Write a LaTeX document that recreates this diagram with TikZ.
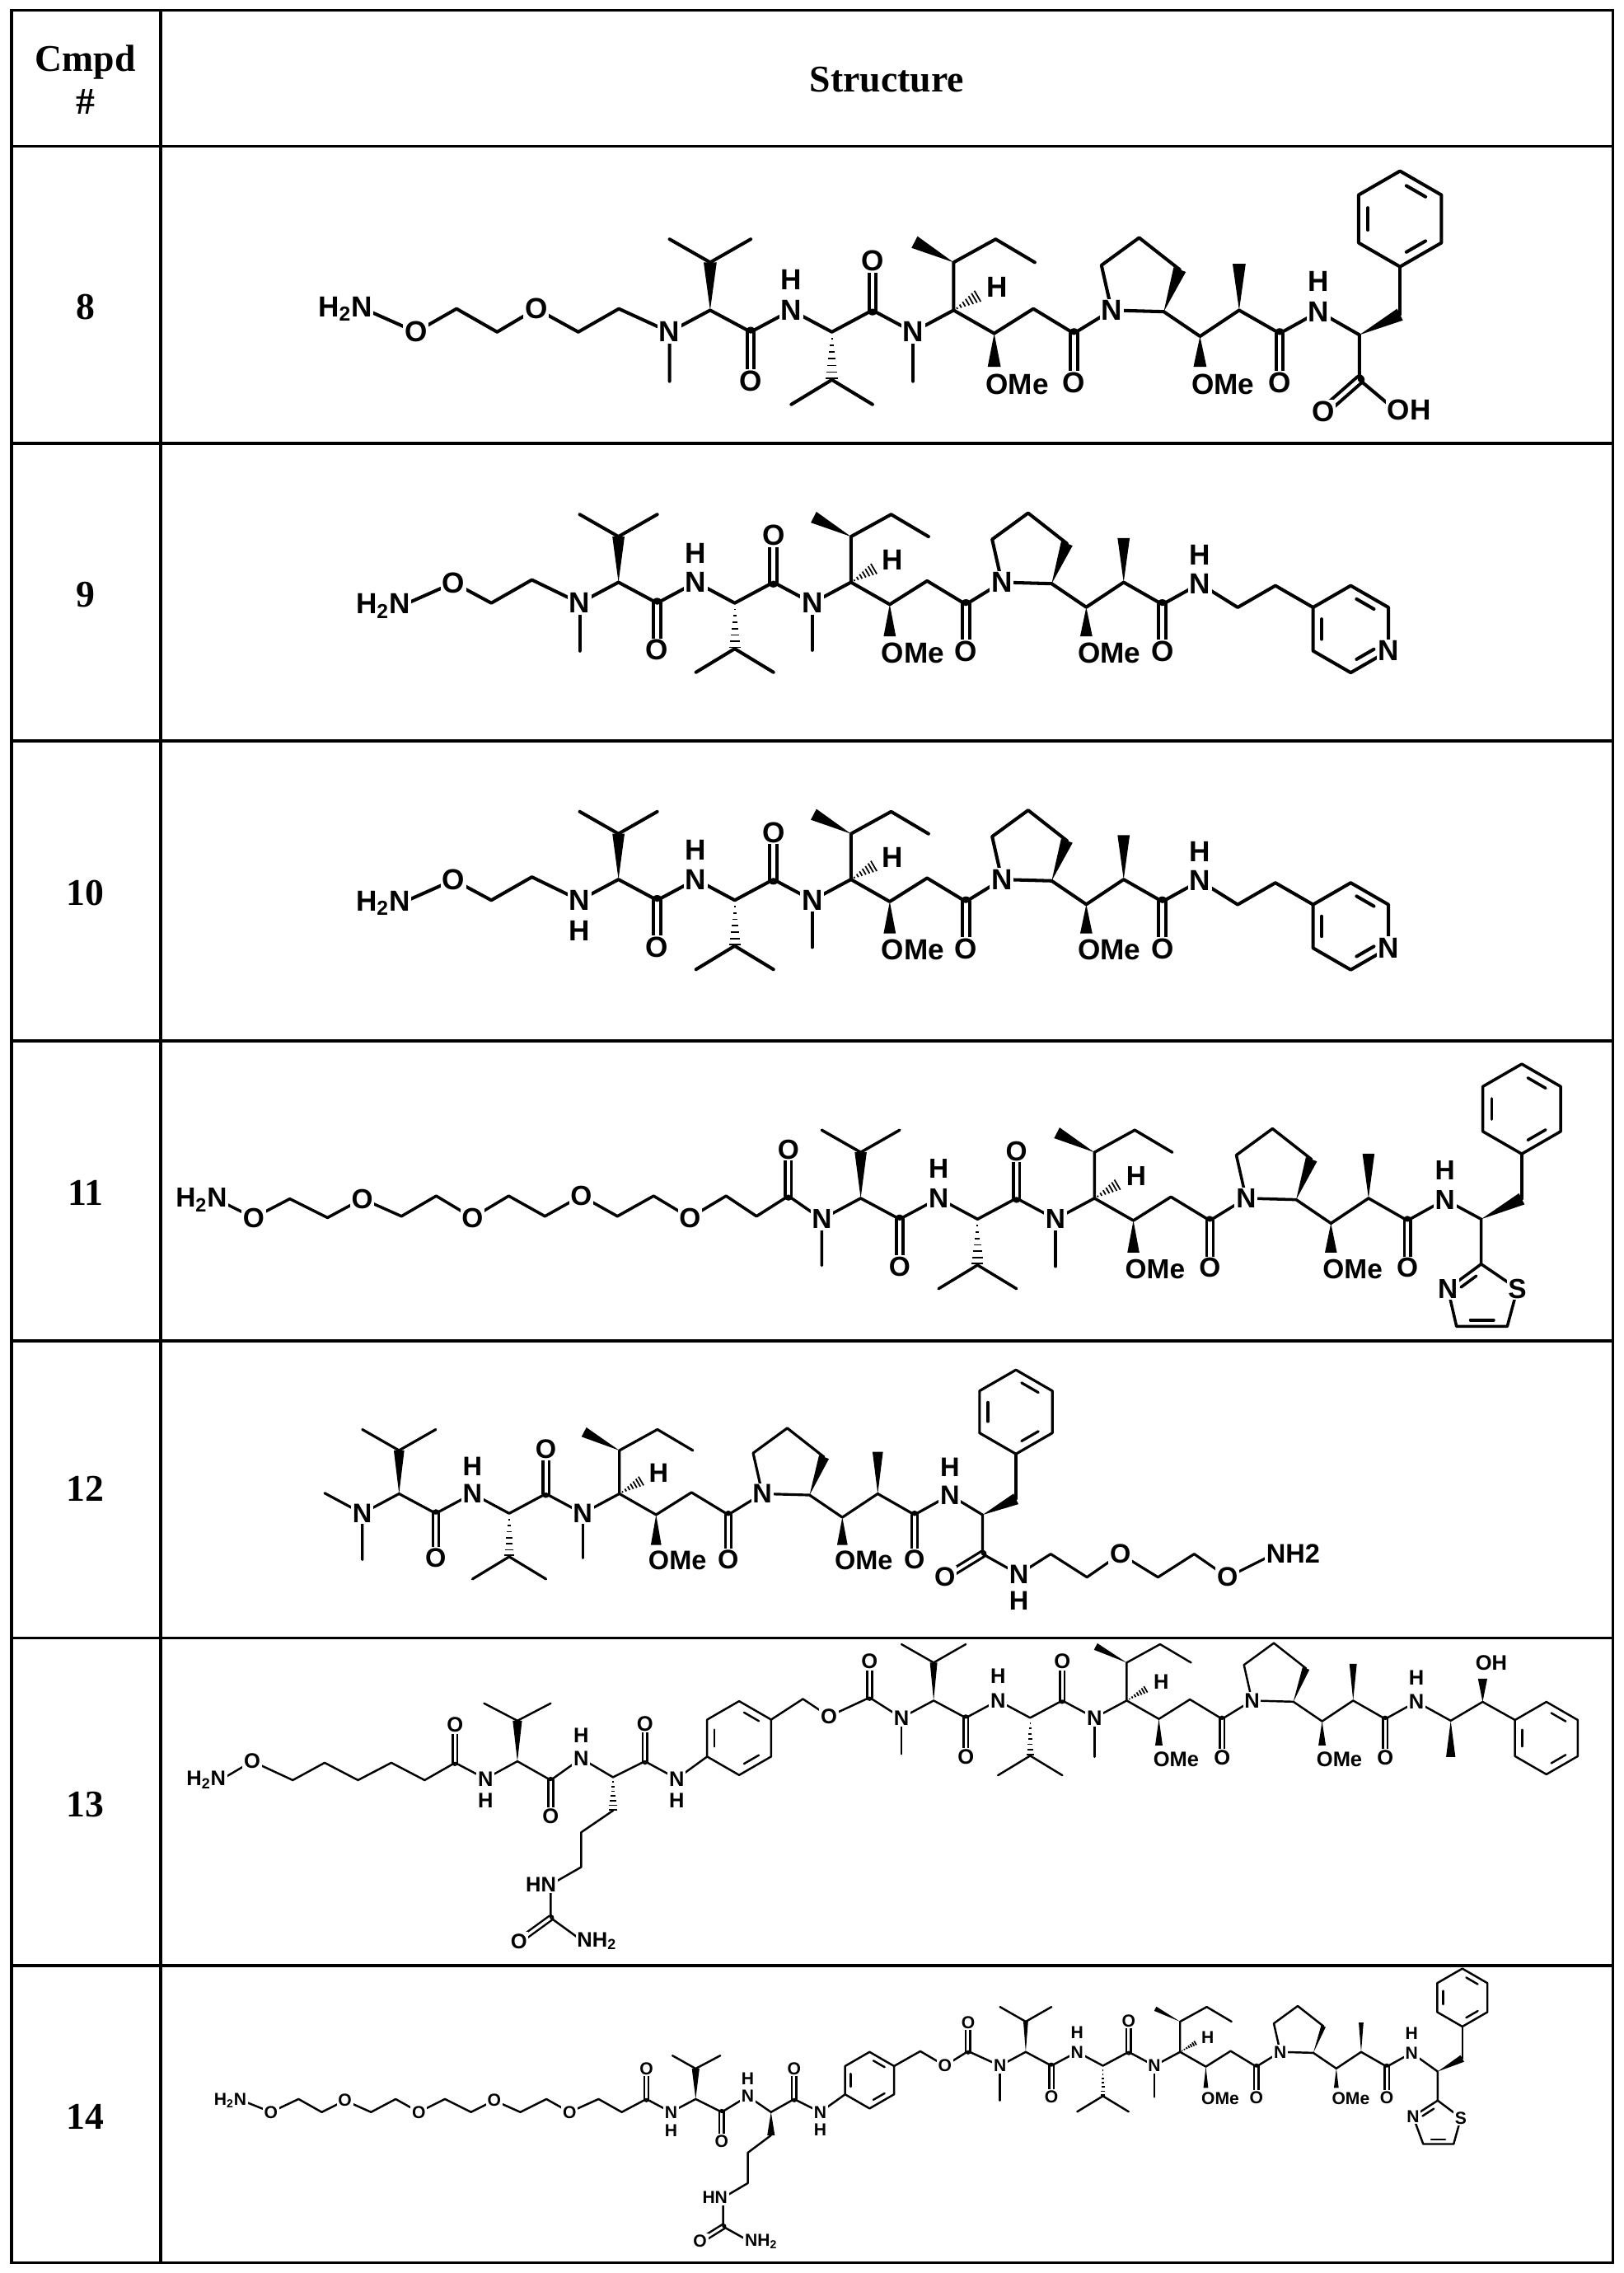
\documentclass[tikz,border=0pt]{standalone}
\usepackage{fontspec}
\setmainfont{Liberation Serif}
\newfontfamily\af{Liberation Sans}
\usetikzlibrary{calc}
\newcommand\wdg[2]{\fill (#1) -- ($(#2)!\ww!90:(#1)$) -- ($(#2)!\ww!-90:(#1)$) -- cycle;}
\newcommand\hsh[2]{\foreach \t in {0.14,0.28,0.42,0.56,0.70,0.84,0.97}{\draw[line width=1pt] ($(#1)!\t!(#2)!\t*\ww!90:(#2)$) -- ($(#1)!\t!(#2)!\t*\ww!-90:(#2)$);}}
\newcommand\inb[3]{\draw[bond] ($($(#1)!.2!(#2)$)!.23!(#3)$) -- ($($(#1)!.8!(#2)$)!.23!(#3)$);}
\newcommand\hexv[3]{%
 \coordinate (#1-1) at ($(#2)+(0,-#3)$);
 \coordinate (#1-2) at ($(#2)+({0.866*#3},{-0.5*#3})$);
 \coordinate (#1-3) at ($(#2)+({0.866*#3},{0.5*#3})$);
 \coordinate (#1-4) at ($(#2)+(0,#3)$);
 \coordinate (#1-5) at ($(#2)+({-0.866*#3},{0.5*#3})$);
 \coordinate (#1-6) at ($(#2)+({-0.866*#3},{-0.5*#3})$);}
\newcommand\hexd[1]{\draw[bond] (#1-1) -- (#1-2) -- (#1-3) -- (#1-4) -- (#1-5) -- (#1-6) -- cycle;}
\tikzset{
 lab/.style={font=\lf, fill=white, inner sep=1pt},
 dbl/.style={bond, double, double distance=\ddist},
 grid/.style={line width=2pt},
 hd/.style={font=\bfseries\fontsize{26}{30}\selectfont, align=center},
 core/.pic={
 \coordinate (-n1) at (0,0);
 \coordinate (-a1) at (28,-15); \coordinate (-ip) at (28,-48); \coordinate (-ipa) at (0,-64); \coordinate (-ipb) at (56,-64);
 \coordinate (-c1) at (56,0); \coordinate (-o1) at (56,34);
 \coordinate (-n2) at (84,-15); \coordinate (-h2) at (84,-36);
 \coordinate (-a2) at (112,0); \coordinate (-iq) at (112,33); \coordinate (-iqa) at (84,50); \coordinate (-iqb) at (140,50);
 \coordinate (-c2) at (140,-15); \coordinate (-o2) at (140,-49);
 \coordinate (-n3) at (168,0); \coordinate (-m3) at (168,34);
 \coordinate (-a3) at (196,-15); \coordinate (-sb) at (196,-48); \coordinate (-sm) at (169,-62); \coordinate (-e1) at (225,-64); \coordinate (-e2) at (252,-48);
 \coordinate (-hx) at (213,-25); \coordinate (-hl) at (226,-31);
 \coordinate (-c4) at (224,1); \coordinate (-w4) at (224,24); \coordinate (-om1) at (224,36);
 \coordinate (-c5) at (251,-16); \coordinate (-c6) at (279,1); \coordinate (-o6) at (279,35);
 \coordinate (-np) at (305,-15); \coordinate (-p2) at (341,-14); \coordinate (-p3) at (352,-43); \coordinate (-p4) at (324,-65); \coordinate (-p5) at (298,-46);
 \coordinate (-c7) at (366,3); \coordinate (-w7) at (366,24); \coordinate (-om2) at (366,36);
 \coordinate (-c8) at (393,-15); \coordinate (-m8) at (393,-47);
 \coordinate (-c9) at (421,1); \coordinate (-o9) at (421,35);
 \coordinate (-nh) at (448,-14); \coordinate (-hnh) at (448,-35);
 \draw[dbl] (-c1) -- (-o1); \draw[dbl] (-c2) -- (-o2); \draw[dbl] (-c6) -- (-o6); \draw[dbl] (-c9) -- (-o9);
 \draw[bond] (-n1) -- (-a1) -- (-c1) -- (-n2) -- (-a2) -- (-c2) -- (-n3) -- (-a3) -- (-c4) -- (-c5) -- (-c6) -- (-np) -- (-p2) -- (-c7) -- (-c8) -- (-c9) -- (-nh);
 \draw[bond] (-ipa) -- (-ip) -- (-ipb);
 \draw[bond] (-iqa) -- (-iq) -- (-iqb);
 \draw[bond] (-n3) -- (-m3);
 \draw[bond] (-a3) -- (-sb) -- (-e1) -- (-e2);
 \draw[bond] (-p3) -- (-p4) -- (-p5) -- (-np);
 \wdg{-a1}{-ip} \hsh{-a2}{-iq} \wdg{-sb}{-sm} \hsh{-a3}{-hx} \wdg{-c4}{-w4} \wdg{-p2}{-p3} \wdg{-c7}{-w7} \wdg{-c8}{-m8}
 \node[lab] (-N1) at (-n1) {N};
 \node[lab] (-O1) at (-o1) {O};
 \node[lab] (-N2) at (-n2) {N}; \node[lab] (-H2) at (-h2) {H};
 \node[lab] (-O2) at (-o2) {O};
 \node[lab] (-N3) at (-n3) {N};
 \node[lab] (-HL) at (-hl) {H};
 \node[lab,anchor=west,xshift=-\ox] (-OM1) at (-om1) {OMe};
 \node[lab] (-O6) at (-o6) {O};
 \node[lab] (-NP) at (-np) {N};
 \node[lab,anchor=west,xshift=-\ox] (-OM2) at (-om2) {OMe};
 \node[lab] (-O9) at (-o9) {O};
 \node[lab] (-NH) at (-nh) {N}; \node[lab] (-HH) at (-hnh) {H};
 }}
\begin{document}
\begin{tikzpicture}[x=1pt,y=-1pt]
\useasboundingbox (0,0) rectangle (1120,1568);
\fill[white] (0,0) rectangle (1120,1568);
% table
\draw[grid] (8,7) rectangle (1113,1561);
\draw[grid] (111,7) -- (111,1561);
\foreach \yy in {101,306,511,718,925,1130,1356} \draw[grid] (8,\yy) -- (1113,\yy);
\node[hd] (hcmp) at (59,55) {Cmpd\\\#};
\node[hd] (hstr) at (612,55) {Structure};
\node[hd] (k8) at (59,212) {8};
\node[hd] (k9) at (59,410) {9};
\node[hd] (k10) at (59,616) {10};
\node[hd] (k11) at (59,823) {11};
\node[hd] (k12) at (59,1027) {12};
\node[hd] (k13) at (59,1245) {13};
\node[hd] (k14) at (59,1460) {14};

% ---------- row 8
\begin{scope}[bond/.style={line width=2.3pt,line cap=round,line join=round}]
\def\lf{\af\bfseries\fontsize{20}{20}\selectfont}\def\ww{4.5pt}\def\ox{7pt}\def\ddist{2.6pt}
\coordinate (r8n) at (462,229);
\coordinate (r8nh) at ($(r8n)+(448,-14)$);
\coordinate (r8m) at (462,263);
\coordinate (r8h) at (251,213); \coordinate (r8o1) at (287,229); \coordinate (r8c1) at (315,213); \coordinate (r8c2) at (343,229);
\coordinate (r8o2) at (370,213); \coordinate (r8c3) at (399,229); \coordinate (r8c4) at (427,213);
\draw[bond] (r8h) -- (r8o1) -- (r8c1) -- (r8c2) -- (r8o2) -- (r8c3) -- (r8c4) -- (r8n) -- (r8m);
\coordinate (r8a) at (938,231); \coordinate (r8b) at (966,217); \coordinate (r8cc) at (938,262);
\coordinate (r8oa) at (913,284); \coordinate (r8ob) at (963,283); \coordinate (r8pc) at (966,151);
\hexv{r8p}{r8pc}{33}
\draw[dbl] (r8cc) -- (r8oa);
\draw[bond] (r8nh) -- (r8a) -- (r8cc) -- (r8ob);
\wdg{r8a}{r8b}
\draw[bond] (r8b) -- (r8p-4);
\hexd{r8p} \inb{r8p-1}{r8p-2}{r8pc} \inb{r8p-3}{r8p-4}{r8pc} \inb{r8p-5}{r8p-6}{r8pc}
\pic (r8) at (r8n) {core};
\node[lab,anchor=east,xshift=\ox] (r8H) at (r8h) {H\textsubscript{2}N};
\node[lab] (r8O1) at (r8o1) {O}; \node[lab] (r8O2) at (r8o2) {O};
\node[lab] (r8O3) at (r8oa) {O}; \node[lab,anchor=west,xshift=-\ox] (r8OH) at (r8ob) {OH};
\end{scope}

% ---------- rows 9 and 10
\foreach \rr/\dy in {9/0,10/205}{
\begin{scope}[yshift=-\dy pt, bond/.style={line width=2.3pt,line cap=round,line join=round}]
\def\lf{\af\bfseries\fontsize{20}{20}\selectfont}\def\ww{4.4pt}\def\ox{7pt}\def\ddist{2.6pt}
\coordinate (q\rr n) at (400,416);
\coordinate (q\rr nh) at ($(q\rr n)+.955*(448,-14)$);
\coordinate (q\rr h) at (277,418); \coordinate (q\rr o) at (313,402); \coordinate (q\rr c1) at (339,416); \coordinate (q\rr c2) at (367,400);
\draw[bond] (q\rr h) -- (q\rr o) -- (q\rr c1) -- (q\rr c2) -- (q\rr n);
\coordinate (q\rr e1) at (854,419); \coordinate (q\rr e2) at (880,404); \coordinate (q\rr pc) at (932,434);
\hexv{q\rr p}{q\rr pc}{30}
\draw[bond] (q\rr nh) -- (q\rr e1) -- (q\rr e2) -- (q\rr p-6);
\hexd{q\rr p} \inb{q\rr p-1}{q\rr p-2}{q\rr pc} \inb{q\rr p-3}{q\rr p-4}{q\rr pc} \inb{q\rr p-5}{q\rr p-6}{q\rr pc}
\ifnum\rr=9
 \coordinate (q9m) at (400,449); \draw[bond] (q9n) -- (q9m);
\fi
\pic[scale=.955] (q\rr) at (q\rr n) {core};
\ifnum\rr=10 \node[lab] (q10HN) at (400,437) {H}; \fi
\node[lab,anchor=east,xshift=\ox] (q\rr H) at (q\rr h) {H\textsubscript{2}N};
\node[lab] (q\rr O) at (q\rr o) {O};
\node[lab] (q\rr PN) at (q\rr p-3) {N};
\end{scope}}

% ---------- row 11
\begin{scope}[bond/.style={line width=2.0pt,line cap=round,line join=round}]
\def\lf{\af\bfseries\fontsize{19}{19}\selectfont}\def\ww{4.3pt}\def\ox{6.8pt}\def\ddist{2.4pt}
\coordinate (r11n) at (567,841);
\coordinate (r11nh) at ($(r11n)+.96*(448,-14)$);
\coordinate (r11m) at (567,873);
\coordinate (r11h) at (151,828);
\coordinate (r11o1) at (175,840); \coordinate (r11a1) at (200,827); \coordinate (r11a2) at (226,840);
\coordinate (r11o2) at (250,827); \coordinate (r11a3) at (277,839); \coordinate (r11a4) at (301,825);
\coordinate (r11o3) at (326,840); \coordinate (r11a5) at (351,825); \coordinate (r11a6) at (376,839);
\coordinate (r11o4) at (401,825); \coordinate (r11a7) at (426,839); \coordinate (r11a8) at (451,825);
\coordinate (r11o5) at (476,840); \coordinate (r11a9) at (501,825); \coordinate (r11a10) at (522,839);
\coordinate (r11k) at (544,825); \coordinate (r11ko) at (544,793);
\draw[dbl] (r11k) -- (r11ko);
\draw[bond] (r11h) -- (r11o1) -- (r11a1) -- (r11a2) -- (r11o2) -- (r11a3) -- (r11a4) -- (r11o3) -- (r11a5) -- (r11a6) -- (r11o4) -- (r11a7) -- (r11a8) -- (r11o5) -- (r11a9) -- (r11a10) -- (r11k) -- (r11n) -- (r11m);
\coordinate (r11a) at (1022,841); \coordinate (r11b) at (1050,827); \coordinate (r11pc) at (1050,765);
\hexv{r11p}{r11pc}{31}
\coordinate (r11t2) at (1022,872); \coordinate (r11tn) at (999,889); \coordinate (r11t4) at (1005,915); \coordinate (r11t5) at (1040,915); \coordinate (r11ts) at (1047,889); \coordinate (r11tc) at (1023,896);
\draw[bond] (r11nh) -- (r11a) -- (r11t2);
\wdg{r11a}{r11b}
\draw[bond] (r11b) -- (r11p-4);
\hexd{r11p} \inb{r11p-1}{r11p-2}{r11pc} \inb{r11p-3}{r11p-4}{r11pc} \inb{r11p-5}{r11p-6}{r11pc}
\draw[bond] (r11t2) -- (r11tn) -- (r11t4) -- (r11t5) -- (r11ts) -- cycle;
\inb{r11t2}{r11tn}{r11tc} \inb{r11t4}{r11t5}{r11tc}
\pic[scale=.96] (r11) at (r11n) {core};
\node[lab,anchor=east,xshift=\ox] (r11H) at (r11h) {H\textsubscript{2}N};
\foreach \i in {1,...,5}{\node[lab] (r11O\i) at (r11o\i) {O};}
\node[lab] (r11KO) at (r11ko) {O};
\node[lab] (r11TN) at (r11tn) {N}; \node[lab] (r11TS) at (r11ts) {S};
\end{scope}

% ---------- row 12
\begin{scope}[bond/.style={line width=1.8pt,line cap=round,line join=round}]
\def\lf{\af\bfseries\fontsize{18.5}{18.5}\selectfont}\def\ww{4pt}\def\ox{6.5pt}\def\ddist{2.2pt}
\coordinate (r12n) at (250,1044);
\coordinate (r12nh) at ($(r12n)+.905*(448,-14)$);
\coordinate (r12m1) at (224,1030); \coordinate (r12m2) at (250,1076);
\draw[bond] (r12m1) -- (r12n) -- (r12m2);
\coordinate (r12a) at (678,1045); \coordinate (r12b) at (701,1034); \coordinate (r12pc) at (701,974);
\hexv{r12p}{r12pc}{29}
\coordinate (r12k) at (678,1072); \coordinate (r12ko) at (652,1088); \coordinate (r12kn) at (703,1086); \coordinate (r12kh) at (703,1104);
\coordinate (r12c1) at (725,1072); \coordinate (r12c2) at (750,1088); \coordinate (r12o1) at (773,1072);
\coordinate (r12c3) at (799,1088); \coordinate (r12c4) at (824,1072); \coordinate (r12o2) at (847,1088); \coordinate (r12x) at (879,1072);
\draw[dbl] (r12k) -- (r12ko);
\draw[bond] (r12nh) -- (r12a) -- (r12k) -- (r12kn) -- (r12c1) -- (r12c2) -- (r12o1) -- (r12c3) -- (r12c4) -- (r12o2) -- (r12x);
\wdg{r12a}{r12b}
\draw[bond] (r12b) -- (r12p-4);
\hexd{r12p} \inb{r12p-1}{r12p-2}{r12pc} \inb{r12p-3}{r12p-4}{r12pc} \inb{r12p-5}{r12p-6}{r12pc}
\pic[scale=.905] (r12) at (r12n) {core};
\node[lab] (r12KO) at (r12ko) {O}; \node[lab] (r12KN) at (r12kn) {N}; \node[lab] (r12KH) at (r12kh) {H};
\node[lab] (r12O1) at (r12o1) {O}; \node[lab] (r12O2) at (r12o2) {O};
\node[lab,anchor=west,xshift=-\ox] (r12X) at (r12x) {NH2};
\end{scope}

% ---------- row 13
\begin{scope}[bond/.style={line width=1.4pt,line cap=round,line join=round}]
\def\lf{\af\bfseries\fontsize{14.5}{14.5}\selectfont}\def\ww{3.2pt}\def\ox{5pt}\def\ddist{1.9pt}
\coordinate (s13n) at (622,1185);
\coordinate (s13nh) at ($(s13n)+.793*(448,-14)$);
\coordinate (s13m) at (622,1210);
\coordinate (s13k) at (600,1171); \coordinate (s13ko) at (600,1146); \coordinate (s13ok) at (572,1184); \coordinate (s13ch) at (554,1172);
\coordinate (s13bc) at (510,1199);
\hexv{s13b}{s13bc}{25.5}
\coordinate (s13an) at (467,1227); \coordinate (s13ah) at (467,1242);
\coordinate (s13k2) at (445,1215); \coordinate (s13k2o) at (445,1189);
\coordinate (s13ca) at (423,1226); \coordinate (s13cb) at (423,1249); \coordinate (s13cc) at (401,1264); \coordinate (s13cd) at (401,1288);
\coordinate (s13un) at (380,1300); \coordinate (s13uc) at (380,1323); \coordinate (s13uo) at (358,1339); \coordinate (s13un2) at (402,1339);
\coordinate (s13vn) at (401,1213); \coordinate (s13vh) at (401,1197);
\coordinate (s13k3) at (380,1228); \coordinate (s13k3o) at (380,1253);
\coordinate (s13va) at (357,1215); \coordinate (s13vb) at (357,1187); \coordinate (s13vm1) at (334,1175); \coordinate (s13vm2) at (380,1175);
\coordinate (s13wn) at (335,1227); \coordinate (s13wh) at (335,1242);
\coordinate (s13k4) at (314,1216); \coordinate (s13k4o) at (314,1190);
\coordinate (s13l1) at (293,1228); \coordinate (s13l2) at (270,1216); \coordinate (s13l3) at (247,1228); \coordinate (s13l4) at (224,1216); \coordinate (s13l5) at (202,1228);
\coordinate (s13lo) at (174,1215); \coordinate (s13h) at (152,1228);
\draw[dbl] (s13k) -- (s13ko); \draw[dbl] (s13k2) -- (s13k2o); \draw[dbl] (s13k3) -- (s13k3o); \draw[dbl] (s13k4) -- (s13k4o); \draw[dbl] (s13uc) -- (s13uo);
\draw[bond] (s13n) -- (s13m);
\draw[bond] (s13n) -- (s13k) -- (s13ok) -- (s13ch) -- (s13b-2);
\hexd{s13b} \inb{s13b-1}{s13b-2}{s13bc} \inb{s13b-3}{s13b-4}{s13bc} \inb{s13b-5}{s13b-6}{s13bc}
\draw[bond] (s13b-5) -- (s13an) -- (s13k2) -- (s13ca) -- (s13vn) -- (s13k3) -- (s13va) -- (s13wn) -- (s13k4) -- (s13l1) -- (s13l2) -- (s13l3) -- (s13l4) -- (s13l5) -- (s13lo) -- (s13h);
\draw[bond] (s13cb) -- (s13cc) -- (s13cd) -- (s13un) -- (s13uc) -- (s13un2);
\hsh{s13ca}{s13cb}
\wdg{s13va}{s13vb}
\draw[bond] (s13vm1) -- (s13vb) -- (s13vm2);
% end group
\coordinate (s13ea) at (1001,1187); \coordinate (s13em) at (1001,1212); \coordinate (s13eb) at (1023,1174); \coordinate (s13ew) at (1023,1158); \coordinate (s13eo) at (1029,1147);
\coordinate (s13pc) at (1067,1199);
\hexv{s13p}{s13pc}{25}
\draw[bond] (s13nh) -- (s13ea) -- (s13eb) -- (s13p-6);
\wdg{s13ea}{s13em} \wdg{s13eb}{s13ew}
\hexd{s13p} \inb{s13p-1}{s13p-2}{s13pc} \inb{s13p-3}{s13p-4}{s13pc} \inb{s13p-5}{s13p-6}{s13pc}
\pic[scale=.793] (s13) at (s13n) {core};
\node[lab] (s13KO) at (s13ko) {O}; \node[lab] (s13OK) at (s13ok) {O};
\node[lab] (s13AN) at (s13an) {N}; \node[lab] (s13AH) at (s13ah) {H};
\node[lab] (s13K2O) at (s13k2o) {O};
\node[lab,anchor=east,xshift=\ox] (s13UN) at (s13un) {HN};
\node[lab] (s13UO) at (s13uo) {O};
\node[lab,anchor=west,xshift=-\ox] (s13UN2) at (s13un2) {NH\textsubscript{2}};
\node[lab] (s13VN) at (s13vn) {N}; \node[lab] (s13VH) at (s13vh) {H};
\node[lab] (s13K3O) at (s13k3o) {O};
\node[lab] (s13WN) at (s13wn) {N}; \node[lab] (s13WH) at (s13wh) {H};
\node[lab] (s13K4O) at (s13k4o) {O};
\node[lab] (s13LO) at (s13lo) {O};
\node[lab,anchor=east,xshift=\ox] (s13H) at (s13h) {H\textsubscript{2}N};
\node[lab] (s13EO) at (s13eo) {OH};
\end{scope}

% ---------- row 14
\begin{scope}[bond/.style={line width=1.4pt,line cap=round,line join=round}]
\def\lf{\af\bfseries\fontsize{12}{12}\selectfont}\def\ww{2.6pt}\def\ox{4.2pt}\def\ddist{1.7pt}
\coordinate (t14n) at (690,1425);
\coordinate (t14nh) at ($(t14n)+.634*(448,-14)$);
\coordinate (t14m) at (690,1449);
\coordinate (t14k) at (668,1415); \coordinate (t14ko) at (668,1395); \coordinate (t14ok) at (652,1425); \coordinate (t14ch) at (635,1415);
\coordinate (t14bc) at (600,1435);
\hexv{t14b}{t14bc}{19.5}
\coordinate (t14an) at (566,1457); \coordinate (t14ah) at (566,1469);
\coordinate (t14k2) at (548,1448); \coordinate (t14k2o) at (548,1427);
\coordinate (t14ca) at (532,1457); \coordinate (t14cb) at (532,1473); \coordinate (t14cc) at (516,1485); \coordinate (t14cd) at (516,1506);
\coordinate (t14un) at (499,1516); \coordinate (t14uc) at (499,1536); \coordinate (t14uo) at (483,1546); \coordinate (t14un2) at (517,1546);
\coordinate (t14vn) at (516,1446); \coordinate (t14vh) at (516,1434);
\coordinate (t14k3) at (498,1457); \coordinate (t14k3o) at (498,1477);
\coordinate (t14va) at (480,1448); \coordinate (t14vb) at (480,1427); \coordinate (t14vm1) at (464,1418); \coordinate (t14vm2) at (497,1418);
\coordinate (t14wn) at (463,1457); \coordinate (t14wh) at (463,1470);
\coordinate (t14k4) at (446,1448); \coordinate (t14k4o) at (446,1427);
\coordinate (t14l1) at (429,1457); \coordinate (t14l2) at (413,1448); \coordinate (t14o1) at (393,1457);
\coordinate (t14l3) at (377,1448); \coordinate (t14l4) at (359,1457); \coordinate (t14o2) at (341,1449);
\coordinate (t14l5) at (325,1457); \coordinate (t14l6) at (307,1448); \coordinate (t14o3) at (289,1457);
\coordinate (t14l7) at (273,1448); \coordinate (t14l8) at (256,1457); \coordinate (t14o4) at (238,1449);
\coordinate (t14l9) at (222,1457); \coordinate (t14l10) at (206,1448); \coordinate (t14o5) at (187,1457);
\coordinate (t14h) at (167,1449);
\draw[dbl] (t14k) -- (t14ko); \draw[dbl] (t14k2) -- (t14k2o); \draw[dbl] (t14k3) -- (t14k3o); \draw[dbl] (t14k4) -- (t14k4o); \draw[dbl] (t14uc) -- (t14uo);
\draw[bond] (t14n) -- (t14m);
\draw[bond] (t14n) -- (t14k) -- (t14ok) -- (t14ch) -- (t14b-2);
\hexd{t14b} \inb{t14b-1}{t14b-2}{t14bc} \inb{t14b-3}{t14b-4}{t14bc} \inb{t14b-5}{t14b-6}{t14bc}
\draw[bond] (t14b-5) -- (t14an) -- (t14k2) -- (t14ca) -- (t14vn) -- (t14k3) -- (t14va) -- (t14wn) -- (t14k4) -- (t14l1) -- (t14l2) -- (t14o1) -- (t14l3) -- (t14l4) -- (t14o2) -- (t14l5) -- (t14l6) -- (t14o3) -- (t14l7) -- (t14l8) -- (t14o4) -- (t14l9) -- (t14l10) -- (t14o5) -- (t14h);
\draw[bond] (t14cb) -- (t14cc) -- (t14cd) -- (t14un) -- (t14uc) -- (t14un2);
\wdg{t14ca}{t14cb}
\wdg{t14va}{t14vb}
\draw[bond] (t14vm1) -- (t14vb) -- (t14vm2);
% end group
\coordinate (t14ea) at (992,1429); \coordinate (t14eb) at (1009,1420); \coordinate (t14pc) at (1009,1378);
\hexv{t14p}{t14pc}{20}
\coordinate (t14t2) at (992,1449); \coordinate (t14tn) at (975,1460); \coordinate (t14t4) at (982,1479); \coordinate (t14t5) at (1003,1479); \coordinate (t14ts) at (1008,1461); \coordinate (t14tc) at (992,1466);
\draw[bond] (t14nh) -- (t14ea) -- (t14t2);
\wdg{t14ea}{t14eb}
\draw[bond] (t14eb) -- (t14p-4);
\hexd{t14p} \inb{t14p-1}{t14p-2}{t14pc} \inb{t14p-3}{t14p-4}{t14pc} \inb{t14p-5}{t14p-6}{t14pc}
\draw[bond] (t14t2) -- (t14tn) -- (t14t4) -- (t14t5) -- (t14ts) -- cycle;
\inb{t14t2}{t14tn}{t14tc} \inb{t14t4}{t14t5}{t14tc}
\pic[scale=.634] (t14) at (t14n) {core};
\node[lab] (t14KO) at (t14ko) {O}; \node[lab] (t14OK) at (t14ok) {O};
\node[lab] (t14AN) at (t14an) {N}; \node[lab] (t14AH) at (t14ah) {H};
\node[lab] (t14K2O) at (t14k2o) {O};
\node[lab,anchor=east,xshift=\ox] (t14UN) at (t14un) {HN};
\node[lab] (t14UO) at (t14uo) {O};
\node[lab,anchor=west,xshift=-\ox] (t14UN2) at (t14un2) {NH\textsubscript{2}};
\node[lab] (t14VN) at (t14vn) {N}; \node[lab] (t14VH) at (t14vh) {H};
\node[lab] (t14K3O) at (t14k3o) {O};
\node[lab] (t14WN) at (t14wn) {N}; \node[lab] (t14WH) at (t14wh) {H};
\node[lab] (t14K4O) at (t14k4o) {O};
\foreach \i in {1,...,5}{\node[lab] (t14O\i) at (t14o\i) {O};}
\node[lab,anchor=east,xshift=\ox] (t14H) at (t14h) {H\textsubscript{2}N};
\node[lab] (t14TN) at (t14tn) {N}; \node[lab] (t14TS) at (t14ts) {S};
\end{scope}
\end{tikzpicture}
\end{document}
